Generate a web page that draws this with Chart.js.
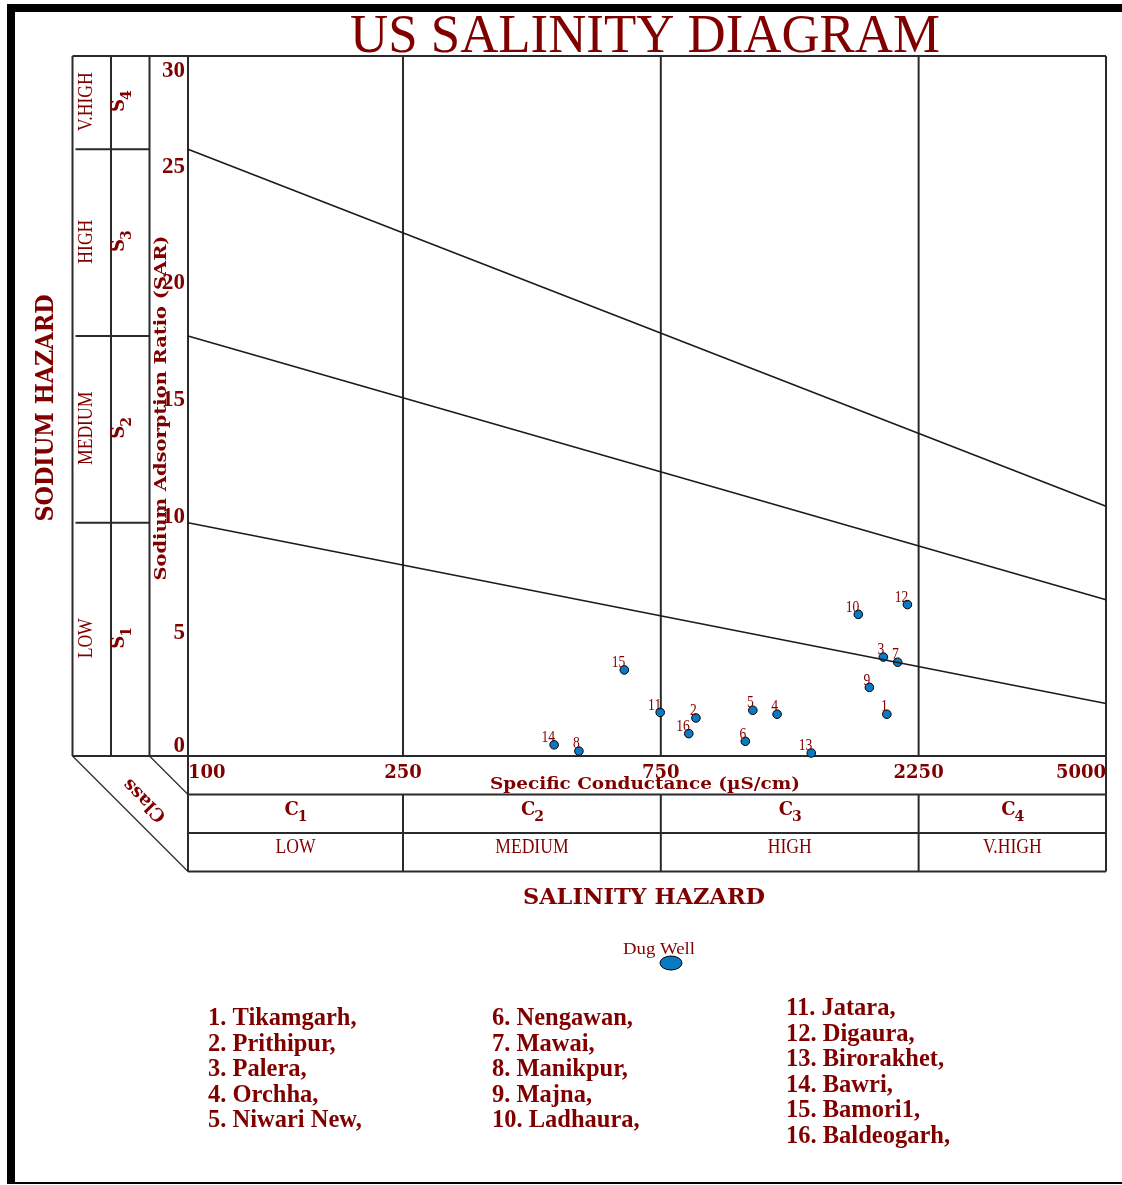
<!DOCTYPE html>
<html>
<head>
<meta charset="utf-8">
<script src="https://cdn.jsdelivr.net/npm/chart.js@4.4.1/dist/chart.umd.min.js"></script>
<style>
html,body{margin:0;padding:0;background:#fff;}
canvas{display:block;}
</style>
</head>
<body>
<canvas id="c" width="1122" height="1185"></canvas>
<script>
// ---------------- DATA ----------------
const stationIds = [1,2,3,4,5,6,7,8,9,10,11,12,13,14,15,16];
const stationNames = ["Tikamgarh","Prithipur","Palera","Orchha","Niwari New","Nengawan","Mawai","Manikpur","Majna","Ladhaura","Jatara","Digaura","Birorakhet","Bawri","Bamori1","Baldeogarh"];
const conductance = [1965, 871, 1936, 1231, 1110, 1075, 2058, 529, 1824, 1740, 748, 2145, 1424, 476, 642, 845];
const sarValues   = [1.79, 1.63, 4.24, 1.79, 1.96, 0.63, 4.02, 0.21, 2.94, 6.07, 1.87, 6.49, 0.13, 0.48, 3.69, 0.96];
const xTicks = [100, 250, 750, 2250, 5000];
const yTicks = [0, 5, 10, 15, 20, 25, 30];
const hazardStart = [10, 18, 26];     // SAR at 100 uS/cm
const hazardEnd   = [2.25, 6.7, 10.7]; // SAR at 5000 uS/cm
const salinityClasses = ["1","2","3","4"];
const salinityNames = ["LOW","MEDIUM","HIGH","V.HIGH"];
const sodiumClasses = ["1","2","3","4"];
const sodiumNames = ["LOW","MEDIUM","HIGH","V.HIGH"];
const legendColumns = [[0,5],[5,10],[10,16]];

// ---------------- STYLE ----------------
const RED = '#800000';
const LINE = '#2a2a2a';
const SLAB = "'DejaVu Serif'";
const TIMES = "'Liberation Serif'";

function txt(ctx, s, x, y, o) {
  ctx.save();
  ctx.translate(x, y);
  if (o.rot) ctx.rotate(o.rot);
  ctx.font = o.font;
  const m = ctx.measureText(s).width;
  const k = o.w ? o.w / m : (o.sx || 1);
  ctx.scale(k, 1);
  ctx.textAlign = o.align || 'center';
  ctx.textBaseline = o.base || 'middle';
  ctx.fillStyle = o.color || RED;
  ctx.fillText(s, 0, 0);
  ctx.restore();
}
function subLabel(ctx, main, sub, x, y, rot, size) {
  ctx.save();
  ctx.translate(x, y);
  if (rot) ctx.rotate(rot);
  ctx.fillStyle = RED;
  ctx.textBaseline = 'alphabetic';
  ctx.font = 'bold ' + size + 'px ' + SLAB;
  const w1 = ctx.measureText(main).width;
  ctx.font = 'bold ' + Math.round(size * 0.75) + 'px ' + SLAB;
  const w2 = ctx.measureText(sub).width;
  const tot = w1 + w2;
  ctx.textAlign = 'left';
  ctx.font = 'bold ' + size + 'px ' + SLAB;
  ctx.fillText(main, -tot / 2, size * 0.35);
  ctx.font = 'bold ' + Math.round(size * 0.75) + 'px ' + SLAB;
  ctx.fillText(sub, -tot / 2 + w1 - 1, size * 0.35 + size * 0.35);
  ctx.restore();
}
function line(ctx, x1, y1, x2, y2) {
  ctx.beginPath(); ctx.moveTo(x1, y1); ctx.lineTo(x2, y2); ctx.stroke();
}

const framePlugin = {
  id: 'frame',
  beforeDraw(chart) {
    const ctx = chart.ctx;
    ctx.save();
    ctx.fillStyle = '#fff';
    ctx.fillRect(0, 0, chart.width, chart.height);
    ctx.fillStyle = '#000';
    ctx.fillRect(7, 4, 8, 1180);
    ctx.fillRect(7, 4, 1115, 8);
    ctx.fillRect(7, 1182, 1115, 2);
    ctx.restore();
  },
  beforeDatasetsDraw(chart) {
    const ctx = chart.ctx, a = chart.chartArea;
    const xs = chart.scales.x, ys = chart.scales.y;
    const band = 38.5;
    const c1 = a.left - band, c2 = a.left - 2 * band, c3 = a.left - 3 * band;
    ctx.save();
    ctx.strokeStyle = LINE; ctx.lineWidth = 2;
    // plot frame
    line(ctx, c3, a.top, a.right, a.top);
    line(ctx, c3, a.bottom, a.right, a.bottom);
    line(ctx, a.left, a.top, a.left, a.bottom + 3 * band);
    line(ctx, a.right, a.top, a.right, a.bottom + 3 * band);
    // bottom band rows
    for (let r = 1; r <= 3; r++) line(ctx, a.left, a.bottom + r * band, a.right, a.bottom + r * band);
    // left columns
    [c1, c2, c3].forEach(x => line(ctx, x, a.top, x, a.bottom));
    hazardStart.forEach(v => { const y = ys.getPixelForValue(v); line(ctx, c3 + 3, y, c1, y); });
    // vertical class boundaries
    xTicks.slice(1, -1).forEach(t => {
      const x = xs.getPixelForValue(t);
      line(ctx, x, a.top, x, a.bottom);
      line(ctx, x, a.bottom + band, x, a.bottom + 3 * band);
    });
    // diagonals
    ctx.lineWidth = 1.3;
    line(ctx, c3, a.bottom, a.left, a.bottom + 3 * band);
    line(ctx, c1, a.bottom, a.left, a.bottom + band);
    ctx.restore();
  },
  afterDatasetsDraw(chart) {
    const ctx = chart.ctx, a = chart.chartArea;
    const xs = chart.scales.x, ys = chart.scales.y;
    const band = 38.5;
    const meta = chart.getDatasetMeta(3);
    // point labels
    meta.data.forEach((p, i) => {
      txt(ctx, String(stationIds[i]), p.x + 1, p.y + 1, {font: '16px ' + TIMES, align: 'right', base: 'bottom', sx: 0.85});
    });
    // title
    txt(ctx, 'US SALINITY DIAGRAM', 645, 52, {font: '54px ' + TIMES, base: 'alphabetic', w: 590});
    // y ticks
    yTicks.forEach((t, i) => {
      const y = ys.getPixelForValue(t);
      if (i === yTicks.length - 1) txt(ctx, String(t), a.left - 3, y + 4, {font: 'bold 23px ' + TIMES, align: 'right', base: 'top'});
      else txt(ctx, String(t), a.left - 3, Math.min(y, a.bottom - 4), {font: 'bold 23px ' + TIMES, align: 'right', base: 'alphabetic'});
    });
    // y axis title
    txt(ctx, 'Sodium Adsorption Ratio (SAR)', a.left - 26, 408, {font: 'bold 17px ' + SLAB, rot: -Math.PI / 2, w: 345});
    // x ticks
    xTicks.forEach((t, i) => {
      const x = xs.getPixelForValue(t);
      const al = i === 0 ? 'left' : (i === xTicks.length - 1 ? 'right' : 'center');
      txt(ctx, String(t), x, a.bottom + 22, {font: 'bold 18px ' + SLAB, align: al, base: 'alphabetic'});
    });
    txt(ctx, 'Specific Conductance (\u00B5S/cm)', 645, a.bottom + 33, {font: 'bold 17px ' + SLAB, base: 'alphabetic', w: 310});
    // salinity class band
    for (let i = 0; i < 4; i++) {
      const x1 = xs.getPixelForValue(xTicks[i]), x2 = xs.getPixelForValue(xTicks[i + 1]);
      const cx = (x1 + x2) / 2;
      subLabel(ctx, 'C', salinityClasses[i], cx + 1, a.bottom + band + 14, 0, 18);
      txt(ctx, salinityNames[i], cx, a.bottom + 2 * band + 15, {font: '20px ' + TIMES, base: 'middle', sx: 0.88});
    }
    // sodium class columns
    const sb = [0].concat(hazardStart, [30]);
    for (let i = 0; i < 4; i++) {
      const y1 = ys.getPixelForValue(sb[i]), y2 = ys.getPixelForValue(sb[i + 1]);
      const cy = (y1 + y2) / 2;
      subLabel(ctx, 'S', sodiumClasses[i], a.left - 2 * band + 7, cy - 2, -Math.PI / 2, 18);
      txt(ctx, sodiumNames[i], a.left - 3 * band + 14, cy - 1, {font: '20px ' + TIMES, rot: -Math.PI / 2, sx: 0.88});
    }
    // axis titles
    txt(ctx, 'SODIUM HAZARD', 47, 408, {font: 'bold 24px ' + SLAB, rot: -Math.PI / 2, w: 227});
    txt(ctx, 'SALINITY HAZARD', 644, 898, {font: 'bold 23px ' + SLAB, w: 242});
    txt(ctx, 'Class', 145, 800, {font: 'bold 18px ' + SLAB, rot: Math.PI * 1.25});
    // legend marker
    txt(ctx, 'Dug Well', 659, 950, {font: '17px ' + TIMES, w: 72});
    ctx.save();
    ctx.fillStyle = '#0b7ac4'; ctx.strokeStyle = '#000'; ctx.lineWidth = 1;
    ctx.beginPath(); ctx.ellipse(671, 963, 11, 7, 0, 0, Math.PI * 2); ctx.fill(); ctx.stroke();
    ctx.restore();
    // station list
    const colX = [208, 492, 786];
    const colY = [1019, 1019, 1009];
    legendColumns.forEach((r, c) => {
      for (let i = r[0]; i < r[1]; i++) {
        const y = colY[c] + (i - r[0]) * 25.5;
        txt(ctx, stationIds[i] + '. ' + stationNames[i] + ',', colX[c], y, {font: 'bold 24.5px ' + TIMES, align: 'left', base: 'middle'});
      }
    });
  }
};

const datasets = hazardStart.map((s, i) => ({
  type: 'line',
  data: [{x: xTicks[0], y: s}, {x: xTicks[xTicks.length - 1], y: hazardEnd[i]}],
  borderColor: '#1a1a1a', borderWidth: 1.6, pointRadius: 0, fill: false, clip: false
}));
datasets.push({
  type: 'scatter',
  data: conductance.map((c, i) => ({x: c, y: sarValues[i]})),
  pointRadius: 4.3, pointBackgroundColor: '#0b7ac4', pointBorderColor: '#000', pointBorderWidth: 1, clip: false
});

new Chart(document.getElementById('c'), {
  type: 'scatter',
  data: {datasets},
  options: {
    responsive: false, animation: false, devicePixelRatio: 1,
    layout: {padding: {left: 188, right: 16, top: 56, bottom: 429}},
    scales: {
      x: {type: 'logarithmic', min: 100, max: 5000, display: false},
      y: {type: 'linear', min: 0, max: 30, display: false}
    },
    plugins: {legend: {display: false}, tooltip: {enabled: false}}
  },
  plugins: [framePlugin]
});
</script>
</body>
</html>
